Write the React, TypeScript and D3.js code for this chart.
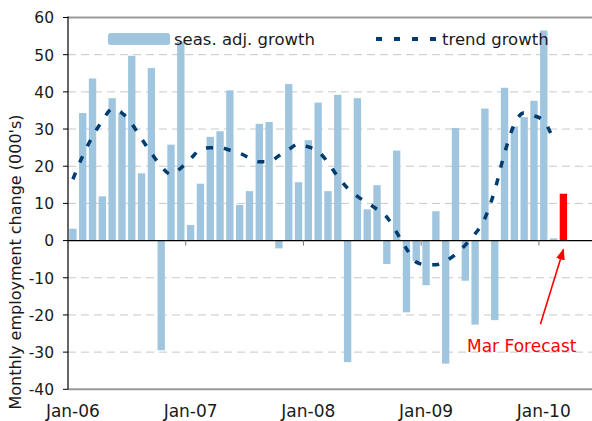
import React from "react";
import * as d3 from "d3";

// ---- data ----
const months: Date[] = d3.timeMonths(new Date(2006, 0, 1), new Date(2010, 3, 1));
const growth: number[] = [
  3.2, 34.3, 43.6, 11.9, 38.3, 34.3, 49.7, 18.1, 46.4, -29.5, 25.8, 53.5,
  4.2, 15.3, 27.9, 29.4, 40.4, 9.6, 13.3, 31.4, 31.9, -2.1, 42.1, 15.7,
  27.0, 37.1, 13.3, 39.2, -32.7, 38.3, 8.4, 14.9, -6.3, 24.2, -19.3, -5.5,
  -12.0, 7.9, -33.1, 30.3, -10.8, -22.6, 35.5, -21.4, 41.1, 30.7, 33.2, 37.6,
  56.5, 0.6, 12.6,
];
const forecastIndex = 50;
const trend: number[] = [
  16.5, 22.8, 28.0, 32.2, 35.4, 34.3, 31.4, 27.4, 23.5, 20.0, 17.8, 19.5,
  22.0, 24.5, 25.0, 25.0, 24.3, 23.5, 22.2, 21.2, 21.2, 22.8, 24.5, 26.0,
  25.2, 24.0, 21.0, 17.2, 14.1, 11.9, 10.2, 8.4, 6.3, 2.2, -2.2, -5.8,
  -6.5, -6.5, -5.5, -3.7, -1.2, 1.8, 6.0, 13.5, 23.5, 31.3, 34.4, 33.6,
  32.2, 27.0,
];
const yTicks: number[] = [-40, -30, -20, -10, 0, 10, 20, 30, 40, 50, 60];
const yearTickLabels: string[] = ["Jan-06", "Jan-07", "Jan-08", "Jan-09", "Jan-10"];
const legendLabels: string[] = ["seas. adj. growth", "trend growth"];
const yTitle = "Monthly employment change (000's)";
const forecastLabel = "Mar Forecast";

// ---- layout ----
const W = 592, H = 421;
const left = 68, right = 592, top = 17.5, bottom = 389.3;
const bandEnd = left + 9.81 * months.length;
const FONT = "'DejaVu Sans', Verdana, sans-serif";

const BAR = "#9fc6de";
const TREND = "#003c6e";

export default function App() {
  const x = d3.scaleBand<number>()
    .domain(d3.range(months.length))
    .range([left, bandEnd])
    .paddingInner(0.25)
    .paddingOuter(0.125);
  const step = x.step();
  const bandStart = (i: number) => left + i * step;
  const cx = (i: number) => bandStart(i) + step / 2;
  const y = d3.scaleLinear().domain([-40, 60]).range([bottom, top]);
  const y0 = y(0);

  const line = d3.line<number>()
    .x((_, i) => cx(i))
    .y((d) => y(d))
    .curve(d3.curveMonotoneX);

  const yearIdx = months
    .map((m, i) => (m.getMonth() === 0 ? i : -1))
    .filter((i) => i >= 0);

  const tipX = cx(forecastIndex);
  const tipY = y0 + 9;
  const arrowStartX = tipX - 23;
  const arrowStartY = y(-22.5);

  return (
    <svg
      width={W}
      height={H}
      style={{ position: "absolute", left: 0, top: 0, background: "#fff" }}
      fontFamily={FONT}
    >
      <defs>
        <marker id="ah" viewBox="0 0 10 10" refX="9" refY="5" markerWidth="7" markerHeight="7" orient="auto">
          <path d="M0,1 L10,5 L0,9 z" fill="#ff0000" />
        </marker>
      </defs>

      {/* gridlines */}
      {yTicks.filter((t) => t !== 0 && t !== 60 && t !== -40).map((t) => (
        <line key={"g" + t} x1={left} x2={right} y1={y(t)} y2={y(t)}
          stroke="#c8c8c8" strokeWidth={1} strokeDasharray="8 5" />
      ))}

      {/* bars */}
      {growth.map((v, i) => {
        const yy = y(Math.max(0, v));
        const h = Math.abs(y(v) - y0);
        return (
          <rect key={"b" + i} x={x(i)} y={yy} width={x.bandwidth()} height={h}
            fill={i === forecastIndex ? "#ff0000" : BAR} />
        );
      })}

      {/* borders */}
      <line x1={left} x2={right} y1={top} y2={top} stroke="#9a9a9a" strokeWidth={2} />
      <line x1={left} x2={right} y1={bottom} y2={bottom} stroke="#9a9a9a" strokeWidth={2} />
      <line x1={left} x2={right} y1={y0} y2={y0} stroke="#000" strokeWidth={1.2} />
      <line x1={left} x2={left} y1={top - 1} y2={bottom} stroke="#000" strokeWidth={1.2} />

      {/* x ticks */}
      {yearIdx.slice(1).map((i) => (
        <line key={"xt" + i} x1={bandStart(i)} x2={bandStart(i)} y1={y0} y2={y0 + 5}
          stroke="#777" strokeWidth={1} />
      ))}

      {/* y ticks + labels */}
      {yTicks.map((t) => (
        <g key={"yt" + t}>
          <line x1={left - 5} x2={left} y1={y(t)} y2={y(t)} stroke="#000" strokeWidth={1} />
          <text x={54} y={y(t)} dy="0.38em" textAnchor="end" fontSize={15.5} fill="#1a1a1a">{t}</text>
        </g>
      ))}

      {/* x labels */}
      {yearIdx.map((i, k) => (
        <text key={"xl" + i} x={cx(i)} y={417} textAnchor="middle" fontSize={17} fill="#1a1a1a">
          {yearTickLabels[k]}
        </text>
      ))}

      {/* trend line */}
      <path d={line(trend) || ""} fill="none" stroke={TREND} strokeWidth={3.5}
        strokeDasharray="7 11" />

      {/* y title */}
      <text transform={`translate(21, 262) rotate(-90)`} textAnchor="middle" fontSize={16} fill="#1a1a1a">
        {yTitle}
      </text>

      {/* legend */}
      <rect x={108} y={33} width={62} height={12} rx={2.5} fill={BAR} />
      <text x={174} y={45} fontSize={16.5} fill="#1a1a1a">{legendLabels[0]}</text>
      <line x1={376} x2={437} y1={39} y2={39} stroke={TREND} strokeWidth={4} strokeDasharray="6 12" />
      <text x={442} y={45} fontSize={16.5} fill="#1a1a1a">{legendLabels[1]}</text>

      {/* forecast annotation */}
      <line x1={arrowStartX} y1={arrowStartY} x2={tipX} y2={tipY}
        stroke="#ff0000" strokeWidth={1.6} markerEnd="url(#ah)" />
      <text x={467} y={352} fontSize={17} fill="#ff0000">{forecastLabel}</text>
    </svg>
  );
}
